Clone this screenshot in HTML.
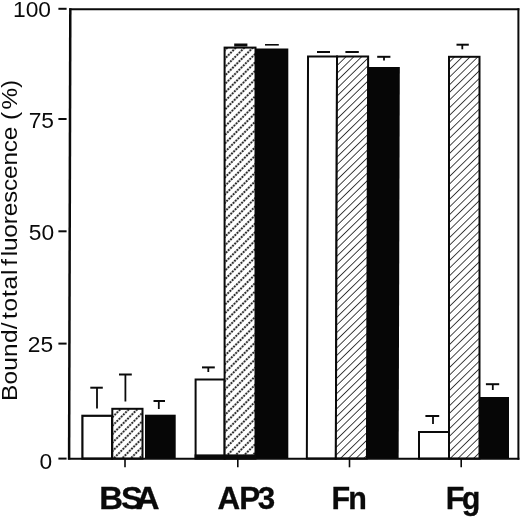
<!DOCTYPE html>
<html><head><meta charset="utf-8"><title>Bound/total fluorescence</title>
<style>html,body{margin:0;padding:0;background:#fff}svg{display:block}text{font-family:"Liberation Sans",Arial,Helvetica,sans-serif;fill:#0a0a0a}</style>
</head><body>
<svg width="520" height="517" viewBox="0 0 520 517">
<defs>
<pattern id="h1" patternUnits="userSpaceOnUse" width="20" height="5.45" patternTransform="translate(337.9,63.9) rotate(-44.5)"><rect width="20" height="5.45" fill="#fff"/><line x1="0" y1="0.45" x2="20" y2="0.45" stroke="#1a1a1a" stroke-width="0.85"/></pattern>
<pattern id="h2" patternUnits="userSpaceOnUse" width="3.07" height="6.0" patternTransform="translate(112,413.4) rotate(-45)"><rect width="3.07" height="6.0" fill="#fff"/><line x1="0" y1="3" x2="3.07" y2="3" stroke="#8a8a8a" stroke-width="1.0"/><circle cx="1.53" cy="3" r="0.9" fill="#0c0c0c"/></pattern>
</defs>
<rect width="520" height="517" fill="#fff"/>
<rect x="82.40" y="415.80" width="29.70" height="42.80" fill="#fff" stroke="#0a0a0a" stroke-width="2.2"/>
<rect x="112.30" y="408.80" width="30.20" height="49.80" fill="url(#h2)" stroke="#0a0a0a" stroke-width="2.0"/>
<rect x="145.00" y="414.70" width="30.70" height="43.90" fill="#060606"/>
<rect x="195.60" y="379.50" width="29.00" height="79.10" fill="#fff" stroke="#0a0a0a" stroke-width="2.0"/>
<rect x="224.60" y="47.60" width="30.90" height="411.00" fill="url(#h2)" stroke="#0a0a0a" stroke-width="2.0"/>
<rect x="255.30" y="48.50" width="33.00" height="410.10" fill="#060606"/>
<g transform="translate(0.4,0) skewX(-0.17)">
<rect x="307.80" y="56.50" width="29.00" height="402.10" fill="#fff" stroke="#0a0a0a" stroke-width="2.0"/>
<rect x="336.80" y="56.50" width="31.10" height="402.10" fill="url(#h1)" stroke="#0a0a0a" stroke-width="2.0"/>
<rect x="367.50" y="66.90" width="32.10" height="391.70" fill="#060606"/>
</g>
<rect x="419.00" y="432.00" width="30.00" height="26.60" fill="#fff" stroke="#0a0a0a" stroke-width="2.0"/>
<rect x="449.00" y="56.80" width="30.50" height="401.80" fill="url(#h1)" stroke="#0a0a0a" stroke-width="2.0"/>
<rect x="479.60" y="397.00" width="29.40" height="61.60" fill="#060606"/>
<line x1="90.3" y1="387.7" x2="102.8" y2="387.7" stroke="#0a0a0a" stroke-width="2.0"/>
<line x1="97" y1="387.7" x2="97" y2="408.5" stroke="#0a0a0a" stroke-width="1.8"/>
<line x1="119" y1="374.5" x2="131.8" y2="374.5" stroke="#0a0a0a" stroke-width="2.0"/>
<line x1="125.4" y1="374.5" x2="125.4" y2="401.5" stroke="#0a0a0a" stroke-width="1.8"/>
<line x1="153.5" y1="401" x2="165" y2="401" stroke="#0a0a0a" stroke-width="2.0"/>
<line x1="158.8" y1="401" x2="158.8" y2="409" stroke="#0a0a0a" stroke-width="1.8"/>
<line x1="202" y1="367.4" x2="214.8" y2="367.4" stroke="#0a0a0a" stroke-width="2.0"/>
<line x1="208.3" y1="367.4" x2="208.3" y2="372" stroke="#0a0a0a" stroke-width="1.8"/>
<line x1="234.2" y1="45.0" x2="247.4" y2="45.0" stroke="#0a0a0a" stroke-width="3"/>
<line x1="265" y1="44.8" x2="278.8" y2="44.8" stroke="#0a0a0a" stroke-width="1.6"/>
<line x1="317" y1="52" x2="330" y2="52" stroke="#0a0a0a" stroke-width="2.0"/>
<line x1="345.4" y1="52" x2="358.8" y2="52" stroke="#0a0a0a" stroke-width="2.0"/>
<line x1="377.2" y1="56.8" x2="390.4" y2="56.8" stroke="#0a0a0a" stroke-width="2.0"/>
<line x1="384" y1="56.8" x2="384" y2="60.5" stroke="#0a0a0a" stroke-width="1.8"/>
<line x1="425.4" y1="416" x2="439.2" y2="416" stroke="#0a0a0a" stroke-width="2.0"/>
<line x1="433" y1="416" x2="433" y2="424" stroke="#0a0a0a" stroke-width="1.8"/>
<line x1="456.5" y1="44.7" x2="468.8" y2="44.7" stroke="#0a0a0a" stroke-width="2.0"/>
<line x1="462.3" y1="44.7" x2="462.3" y2="49.3" stroke="#0a0a0a" stroke-width="1.8"/>
<line x1="485.9" y1="384.2" x2="499.2" y2="384.2" stroke="#0a0a0a" stroke-width="2.0"/>
<line x1="492.8" y1="384.2" x2="492.8" y2="390" stroke="#0a0a0a" stroke-width="1.8"/>
<rect x="194.6" y="454.4" width="61.4" height="4" fill="#0a0a0a"/>
<line x1="70.3" y1="8.3" x2="69.1" y2="459.6" stroke="#0a0a0a" stroke-width="2.5"/>
<line x1="69.2" y1="9.3" x2="519.4" y2="9.3" stroke="#0a0a0a" stroke-width="2.0"/>
<line x1="518.4" y1="8.3" x2="518.4" y2="459.7" stroke="#0a0a0a" stroke-width="2.0"/>
<line x1="67.9" y1="458.7" x2="519.4" y2="458.7" stroke="#0a0a0a" stroke-width="2.1"/>
<line x1="58.4" y1="8.8" x2="66.6" y2="8.8" stroke="#0a0a0a" stroke-width="2"/>
<line x1="58.4" y1="119.0" x2="66.6" y2="119.0" stroke="#0a0a0a" stroke-width="2"/>
<line x1="58.4" y1="231.3" x2="66.6" y2="231.3" stroke="#0a0a0a" stroke-width="2"/>
<line x1="58.4" y1="343.6" x2="66.6" y2="343.6" stroke="#0a0a0a" stroke-width="2"/>
<line x1="58.4" y1="458.6" x2="66.6" y2="458.6" stroke="#0a0a0a" stroke-width="2"/>
<line x1="125" y1="458.6" x2="125" y2="467.3" stroke="#0a0a0a" stroke-width="1.6"/>
<line x1="237.8" y1="458.6" x2="237.8" y2="467.3" stroke="#0a0a0a" stroke-width="1.6"/>
<line x1="349.5" y1="458.6" x2="349.5" y2="467.3" stroke="#0a0a0a" stroke-width="1.6"/>
<line x1="461.2" y1="458.6" x2="461.2" y2="467.3" stroke="#0a0a0a" stroke-width="1.6"/>
<text x="51.0" y="16.5" font-size="22.8" text-anchor="end">100</text>
<text x="54" y="128.0" font-size="22.8" text-anchor="end">75</text>
<text x="54.2" y="239.8" font-size="22.8" text-anchor="end">50</text>
<text x="53.2" y="351.8" font-size="22.8" text-anchor="end">25</text>
<text x="52.3" y="468.7" font-size="22.8" text-anchor="end">0</text>
<g font-size="30.5" font-weight="bold" stroke="#0a0a0a" stroke-width="0.3">
<text transform="translate(99.2,508.5) scale(1.08,1)" x="0 20.2 33.8">BSA</text>
<text transform="translate(217.5,508.5) scale(1.03,1)" x="0 21.0 39.0">AP3</text>
<text x="331.6" y="508.5" letter-spacing="-2.0">Fn</text>
<text x="445.8" y="508.5" letter-spacing="-2.6">Fg</text>
</g>
<text transform="translate(17.4,401.0) rotate(-90) scale(1.11,1)" font-size="22"><tspan letter-spacing="0.2">Bound/</tspan><tspan dx="2.9" letter-spacing="0.74">total</tspan><tspan dx="-3.3"> f</tspan><tspan dx="2.4" letter-spacing="-0.18">luorescence</tspan><tspan dx="0.0"> (</tspan><tspan dx="-4.1"> %)</tspan></text>
</svg>
</body></html>
